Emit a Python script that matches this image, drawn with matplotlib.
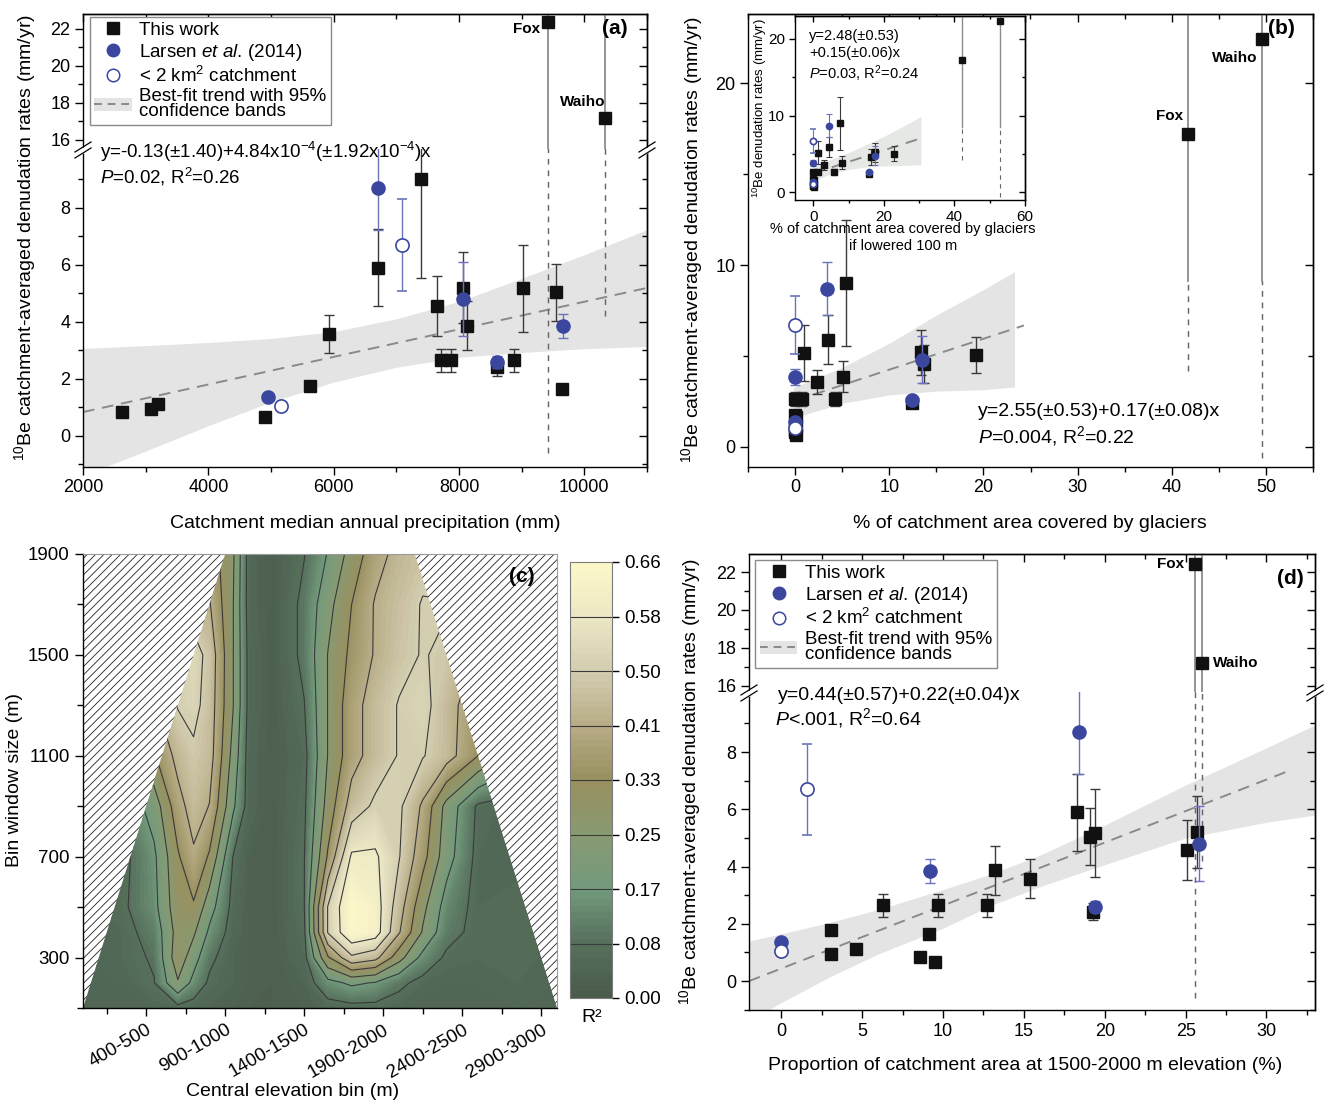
import numpy as np
import matplotlib
matplotlib.use("Agg")
import matplotlib.pyplot as plt
from matplotlib.lines import Line2D
from matplotlib.patches import Patch, Rectangle, Polygon
from matplotlib.colors import LinearSegmentedColormap

plt.rcParams["font.family"] = ["Liberation Sans", "DejaVu Sans"]
plt.rcParams["mathtext.fontset"] = "custom"
plt.rcParams["mathtext.rm"] = "Liberation Sans"
plt.rcParams["mathtext.it"] = "Liberation Sans:italic"
plt.rcParams["mathtext.bf"] = "Liberation Sans:bold"
plt.rcParams["hatch.linewidth"] = 0.6
plt.rcParams["axes.linewidth"] = 1.0

# -----------------------------
# 10Be rates, this work (mm/yr)
# -----------------------------
this_rate = [0.83, 0.95, 1.13, 0.65, 1.77, 3.58, 5.90, 9.00, 4.57, 2.65,
             2.65, 5.20, 3.87, 2.42, 2.65, 5.18, 5.05, 1.63]
this_err = [0.05, 0.08, 0.08, 0.06, 0.12, 0.67, 1.35, 3.45, 1.05, 0.40,
            0.40, 1.25, 0.85, 0.30, 0.40, 1.53, 1.00, 0.12]
this_precip = [2620, 3080, 3200, 4900, 5630, 5930, 6700, 7400, 7650, 7720,
               7880, 8070, 8130, 8600, 8880, 9020, 9550, 9640]
this_glacier = [0.0, 0.0, 0.1, 0.1, 0.0, 2.3, 3.5, 5.4, 13.7, 0.0,
                0.7, 13.4, 5.1, 12.4, 4.2, 0.9, 19.2, 0.1]
this_glacier100 = [0.0, 0.0, 0.1, 0.1, 0.0, 3.0, 4.4, 7.5, 16.3, 0.0,
                   1.3, 17.4, 8.0, 15.7, 5.8, 1.4, 23.0, 0.1]
this_prop = [8.6, 3.1, 4.6, 9.5, 3.1, 15.4, 18.3, np.nan, 25.1, 6.3,
             9.7, 25.7, 13.2, 19.3, 12.7, 19.4, 19.1, 9.1]

# glacier-fed catchments (Fox, Waiho)
big_names = ["Fox", "Waiho"]
big_rate = [22.4, 17.2]
big_err_lo = [23.0, 13.0]
big_err_hi = [10.0, 10.0]
big_precip = [9420, 10330]
big_glacier = [49.6, 41.7]
big_glacier100 = [53.0, 42.0]
big_prop = [25.6, 26.0]

# Larsen et al. (2014)
lar_rate = [1.35, 8.70, 4.80, 2.60, 3.85]
lar_err = [0.08, 1.46, 1.30, 0.20, 0.42]
lar_precip = [4960, 6700, 8070, 8600, 9660]
lar_glacier = [0.0, 3.4, 13.5, 12.4, 0.0]
lar_glacier100 = [0.0, 4.4, 17.5, 15.7, 0.0]
lar_prop = [0.0, 18.4, 25.8, 19.4, 9.2]

# < 2 km2 catchments
small_rate = [1.05, 6.70]
small_err = [0.10, 1.60]
small_precip = [5160, 7090]
small_glacier = [0.0, 0.0]
small_glacier100 = [0.0, 0.0]
small_prop = [0.0, 1.6]

# regression fits (intercept, slope) and 95% bands
fit_a = (-0.13, 4.84e-4)
fit_a_x = [2000, 11000]
band_a_x = [2000, 3000, 4000, 5000, 6000, 7000, 8000, 9000, 10000, 11000]
band_a_hi = [3.07, 3.17, 3.28, 3.42, 3.66, 4.11, 4.72, 5.53, 6.36, 7.24]
band_a_lo = [-1.39, -0.53, 0.36, 1.19, 1.89, 2.41, 2.76, 2.93, 3.06, 3.14]

fit_b = (2.55, 0.17)
fit_b_x = [0, 24.3]
band_b_x = [-0.2, 5, 10, 15, 20, 23.3]
band_b_hi = [3.26, 4.38, 5.70, 7.25, 8.65, 9.63]
band_b_lo = [1.60, 2.40, 2.86, 3.07, 3.15, 3.30]

fit_ins = (2.48, 0.15)
fit_ins_x = [0, 30.5]
band_ins_x = [0, 5, 10, 15, 20, 25, 30.5]
band_ins_hi = [3.4, 4.3, 5.2, 6.2, 7.3, 8.5, 9.9]
band_ins_lo = [1.5, 2.4, 3.0, 3.3, 3.45, 3.5, 3.6]

fit_d = (0.44, 0.22)
fit_d_x = [-2, 31.5]
band_d_x = [-2, 0, 3, 6, 10, 13, 16, 20, 25, 30, 33]
band_d_hi = [1.4, 1.65, 2.05, 2.5, 3.2, 3.75, 4.4, 5.45, 6.85, 8.15, 8.95]
band_d_lo = [-1.4, -0.75, 0.15, 0.95, 1.85, 2.65, 3.3, 4.07, 5.0, 5.55, 5.8]

# R2 of rate vs. catchment proportion in elevation bins
bin_centre = [50, 300, 500, 650, 750, 850, 1000, 1100, 1250, 1450, 1600,
              1750, 1900, 2050, 2200, 2350, 2550, 2800, 3050]
bin_window = [100, 200, 300, 400, 500, 700, 900, 1100, 1300, 1500, 1700, 1900]
r2 = [
    [0.04, 0.05, 0.05, 0.06, 0.05, 0.04, 0.03, 0.02, 0.02, 0.03, 0.05, 0.06, 0.06, 0.05, 0.04, 0.04, 0.05, 0.05, 0.04],
    [0.05, 0.05, 0.08, 0.24, 0.14, 0.07, 0.04, 0.03, 0.02, 0.04, 0.14, 0.18, 0.16, 0.10, 0.06, 0.05, 0.05, 0.06, 0.05],
    [0.05, 0.06, 0.09, 0.30, 0.20, 0.10, 0.04, 0.03, 0.02, 0.06, 0.32, 0.48, 0.44, 0.28, 0.14, 0.07, 0.06, 0.07, 0.05],
    [0.05, 0.06, 0.11, 0.28, 0.26, 0.15, 0.05, 0.03, 0.02, 0.07, 0.50, 0.65, 0.62, 0.42, 0.24, 0.11, 0.06, 0.07, 0.05],
    [0.05, 0.07, 0.14, 0.30, 0.32, 0.20, 0.06, 0.03, 0.02, 0.08, 0.50, 0.66, 0.62, 0.45, 0.27, 0.13, 0.06, 0.07, 0.05],
    [0.05, 0.06, 0.15, 0.32, 0.40, 0.32, 0.08, 0.03, 0.02, 0.08, 0.34, 0.59, 0.59, 0.50, 0.36, 0.20, 0.06, 0.05, 0.05],
    [0.08, 0.10, 0.20, 0.38, 0.45, 0.41, 0.18, 0.05, 0.02, 0.07, 0.28, 0.45, 0.51, 0.51, 0.40, 0.22, 0.07, 0.05, 0.05],
    [0.20, 0.25, 0.32, 0.44, 0.48, 0.45, 0.22, 0.05, 0.02, 0.06, 0.25, 0.38, 0.45, 0.50, 0.50, 0.45, 0.33, 0.20, 0.15],
    [0.30, 0.35, 0.40, 0.50, 0.52, 0.46, 0.25, 0.06, 0.02, 0.08, 0.25, 0.38, 0.45, 0.50, 0.52, 0.45, 0.35, 0.25, 0.20],
    [0.35, 0.40, 0.45, 0.50, 0.53, 0.47, 0.25, 0.06, 0.02, 0.10, 0.25, 0.35, 0.42, 0.47, 0.50, 0.48, 0.40, 0.30, 0.25],
    [0.35, 0.40, 0.42, 0.45, 0.45, 0.42, 0.25, 0.05, 0.02, 0.10, 0.22, 0.33, 0.42, 0.46, 0.50, 0.50, 0.40, 0.30, 0.25],
    [0.35, 0.40, 0.42, 0.43, 0.42, 0.38, 0.26, 0.05, 0.02, 0.08, 0.17, 0.28, 0.38, 0.44, 0.47, 0.45, 0.40, 0.30, 0.25],
]
bin_ticks = [450, 950, 1450, 1950, 2450, 2950]
bin_labels = ["400-500", "900-1000", "1400-1500", "1900-2000", "2400-2500", "2900-3000"]
r2_levels = [0.0, 0.0825, 0.165, 0.2475, 0.33, 0.4125, 0.495, 0.5775, 0.66]
r2_labels = ["0.00", "0.08", "0.17", "0.25", "0.33", "0.41", "0.50", "0.58", "0.66"]
r2_colors = ["#4b5a4b", "#56705c", "#729a7c", "#889a72", "#99905f",
             "#b7ac86", "#d3cdb0", "#ebe7c4", "#fdf8c9"]

BLUE = "#3b479f"
BLUE_E = "#6a73bb"
BAND = "#e4e4e4"
FITC = "#8a8a8a"

W, H = 1325, 1107
fig = plt.figure(figsize=(W / 100, H / 100), dpi=100)


def box(l, t, r, b):
    return [l / W, 1 - b / H, (r - l) / W, (b - t) / H]


def ftext(xp, yp, s, **kw):
    return fig.text(xp / W, 1 - yp / H, s, **kw)


def ticks(ax, xmaj, xmin, ymaj, ymin, fs=13, top=True, right=True,
          bottom=True, ml=6, nl=3.5):
    ax.set_xticks(xmaj)
    ax.set_xticks(xmin, minor=True)
    ax.set_yticks(ymaj)
    ax.set_yticks(ymin, minor=True)
    ax.tick_params(which="both", direction="out", labelsize=fs, width=1,
                   top=False, right=False, bottom=bottom, labelbottom=bottom)
    ax.tick_params(which="major", length=ml, pad=3)
    ax.tick_params(which="minor", length=nl)
    if right:
        sy = ax.secondary_yaxis("right")
        sy.set_yticks(ymaj)
        sy.set_yticks(ymin, minor=True)
        sy.tick_params(which="both", direction="in", labelright=False, width=1)
        sy.tick_params(which="major", length=ml)
        sy.tick_params(which="minor", length=nl)
    if top:
        sx = ax.secondary_xaxis("top")
        sx.set_xticks(xmaj)
        sx.set_xticks(xmin, minor=True)
        sx.tick_params(which="both", direction="in", labeltop=False, width=1)
        sx.tick_params(which="major", length=ml)
        sx.tick_params(which="minor", length=nl)


def draw_points(ax, xt, xl, xs, xb, sq=9, ci=9.5, cap=3.5, lw=1.0):
    ax.errorbar(xt, this_rate, yerr=this_err, fmt="s", color="#111111",
                ms=sq, ecolor="#3a3a3a", elinewidth=lw, capsize=cap,
                capthick=lw, zorder=4)
    ax.errorbar(xl, lar_rate, yerr=lar_err, fmt="o", color=BLUE, ms=ci,
                ecolor=BLUE_E, elinewidth=lw, capsize=cap, capthick=lw,
                zorder=5)
    ax.errorbar(xs, small_rate, yerr=small_err, fmt="o", mfc="white",
                mec=BLUE, mew=1.2, ms=ci, ecolor=BLUE_E, elinewidth=lw,
                capsize=cap, capthick=lw, zorder=5)
    ax.plot(xb, big_rate, "s", color="#111111", ms=sq, zorder=6)


def long_bars(ax, xb, split, lw=1.3):
    # solid part above the split value, dashed part below it
    for x, y, lo, hi in zip(xb, big_rate, big_err_lo, big_err_hi):
        ax.plot([x, x], [max(split, y - lo), y + hi], color="#8c8c8c",
                lw=lw, zorder=2)
        ax.plot([x, x], [y - lo, split], color="#666666", lw=lw * 0.8,
                ls=(0, (4, 4)), zorder=2)


def fit_band(ax, bx, lo, hi, fit, fx, color=BAND):
    ax.fill_between(bx, lo, hi, color=color, lw=0, zorder=0)
    fx = np.array(fx, dtype=float)
    ax.plot(fx, fit[0] + fit[1] * fx, color=FITC, lw=1.4,
            ls=(0, (6, 4)), zorder=1)


def break_marks(xp, yp):
    pts = [(xp - 7, yp + 9), (xp + 7, yp + 1), (xp + 7, yp - 5), (xp - 7, yp + 3)]
    fig.add_artist(Polygon([(a / W, 1 - b / H) for a, b in pts],
                           closed=True, transform=fig.transFigure,
                           facecolor="white", edgecolor="none", zorder=10))
    for off in (-3, 3):
        fig.add_artist(Line2D([(xp - 8) / W, (xp + 8) / W],
                              [1 - (yp + 6 + off) / H, 1 - (yp - 4 + off) / H],
                              transform=fig.transFigure, color="black",
                              lw=0.9, zorder=11))


def legend(ax, anchor):
    handles = [
        Line2D([], [], marker="s", ls="none", color="#111111", ms=8),
        Line2D([], [], marker="o", ls="none", color=BLUE, ms=9),
        Line2D([], [], marker="o", ls="none", mfc="white", mec=BLUE, mew=1.1, ms=9),
        (Patch(facecolor=BAND, edgecolor="none"),
         Line2D([], [], color=FITC, lw=1.4, ls=(0, (4, 3)))),
    ]
    labels = ["This work", r"Larsen $\it{et\ al}$. (2014)",
              r"< 2 km$^2$ catchment", "Best-fit trend with 95%\nconfidence bands"]
    leg = ax.legend(handles, labels, loc="upper left", bbox_to_anchor=anchor,
                    fontsize=13.5, frameon=True, fancybox=False,
                    edgecolor="#8a8a8a", framealpha=1, borderpad=0.25,
                    labelspacing=0.15, handlelength=2.0, handletextpad=0.4,
                    borderaxespad=0)
    leg.get_frame().set_linewidth(1.0)
    for t in leg.get_texts():
        t.set_linespacing(0.85)
    leg.set_zorder(20)


ylab = r"$^{10}$Be catchment-averaged denudation rates (mm/yr)"

# ---------------- (a) precipitation ----------------
a_up = fig.add_axes(box(83, 14, 647, 149))
a_lo = fig.add_axes(box(83, 149, 647, 467))
for ax in (a_up, a_lo):
    draw_points(ax, this_precip, lar_precip, small_precip, big_precip)
fit_band(a_lo, band_a_x, band_a_lo, band_a_hi, fit_a, fit_a_x)
long_bars(a_up, big_precip, -100)
long_bars(a_lo, big_precip, 100)
xmaj = [2000, 4000, 6000, 8000, 10000]
xmin = [3000, 5000, 7000, 9000, 11000]
ticks(a_up, xmaj, xmin, [16, 18, 20, 22], [17, 19, 21], bottom=False)
ticks(a_lo, xmaj, xmin, [0, 2, 4, 6, 8], [-1, 1, 3, 5, 7, 9], top=False)
a_up.spines["bottom"].set_visible(False)
a_lo.spines["top"].set_visible(False)
for ax in (a_up, a_lo):
    ax.set_xlim(2000, 11000)
a_up.set_ylim(15.51, 22.81)
a_lo.set_ylim(-1.09, 10.07)
legend(a_up, (0.012, 0.978))
a_up.annotate("Fox", (big_precip[0], big_rate[0]), xytext=(-6, -5),
              textcoords="offset points", ha="right", va="center",
              fontsize=11, fontweight="bold")
a_up.annotate("Waiho", (big_precip[1], big_rate[1]), xytext=(0, 11),
              textcoords="offset points", ha="right", va="center",
              fontsize=11, fontweight="bold")
ftext(628, 28, "(a)", fontsize=15, fontweight="bold", ha="right", va="center")
ftext(100, 152, r"y=-0.13(±1.40)+4.84x10$^{-4}$(±1.92x10$^{-4}$)x",
      fontsize=13.5, va="center")
ftext(100, 177, r"$P$=0.02, R$^2$=0.26", fontsize=13.5, va="center")
ftext(365, 524, "Catchment median annual precipitation (mm)", fontsize=14,
      ha="center", va="center")
ftext(25, 238, ylab, fontsize=14, rotation=90, ha="center", va="center")
break_marks(83, 149)
break_marks(647, 149)

# ---------------- (b) glacier cover ----------------
b = fig.add_axes(box(748, 14, 1313, 467))
fit_band(b, band_b_x, band_b_lo, band_b_hi, fit_b, fit_b_x)
draw_points(b, this_glacier, lar_glacier, small_glacier, big_glacier)
long_bars(b, big_glacier, 9.1)
ticks(b, [0, 10, 20, 30, 40, 50], [-5, 5, 15, 25, 35, 45, 55],
      [0, 10, 20], [5, 15])
b.set_xlim(-5, 55)
b.set_ylim(-1.1, 23.8)
b.annotate("Fox", (big_glacier[1], big_rate[1]), xytext=(-13, 13),
           textcoords="offset points", ha="center", va="center",
           fontsize=11, fontweight="bold")
b.annotate("Waiho", (big_glacier[0], big_rate[0]), xytext=(-20, -13),
           textcoords="offset points", ha="center", va="center",
           fontsize=11, fontweight="bold")
ftext(1295, 28, "(b)", fontsize=15, fontweight="bold", ha="right", va="center")
ftext(978, 412, "y=2.55(±0.53)+0.17(±0.08)x", fontsize=14, va="center")
ftext(978, 436, r"$P$=0.004, R$^2$=0.22", fontsize=14, va="center")
ftext(1030, 524, "% of catchment area covered by glaciers", fontsize=14,
      ha="center", va="center")
ftext(692, 240, ylab, fontsize=14, rotation=90, ha="center", va="center")

# inset: glaciers lowered 100 m
ins = fig.add_axes(box(795, 16, 1025, 200))
fit_band(ins, band_ins_x, band_ins_lo, band_ins_hi, fit_ins, fit_ins_x,
         color="#e6e8e6")
draw_points(ins, this_glacier100, lar_glacier100, small_glacier100,
            big_glacier100, sq=4, ci=4.5, cap=2, lw=0.8)
long_bars(ins, big_glacier100, 8.5, lw=1.0)
ticks(ins, [0, 20, 40, 60], [10, 30, 50], [0, 10, 20], [5, 15], fs=11,
      ml=4, nl=2.5)
ins.set_xlim(-5.2, 60)
ins.set_ylim(-1.0, 23.0)
ins.text(0.06, 0.93, "y=2.48(±0.53)\n+0.15(±0.06)x\n$P$=0.03, R$^2$=0.24",
         transform=ins.transAxes, fontsize=10.5, va="top", linespacing=1.25)
ftext(903, 229, "% of catchment area covered by glaciers", fontsize=10.5,
      ha="center", va="center")
ftext(903, 246, "if lowered 100 m", fontsize=10.5, ha="center", va="center")
ftext(760, 108, r"$^{10}$Be denudation rates (mm/yr)", fontsize=9.5,
      rotation=90, ha="center", va="center")

# ---------------- (c) elevation bin R2 ----------------
c = fig.add_axes(box(83, 554, 557, 1008))
cmap = LinearSegmentedColormap.from_list(
    "r2", [(v / r2_levels[-1], col) for v, col in zip(r2_levels, r2_colors)])
cx, cy = np.meshgrid(bin_centre, bin_window)
zz = np.array(r2)
c.add_patch(Rectangle((bin_centre[0], bin_window[0]),
                      bin_centre[-1] - bin_centre[0],
                      bin_window[-1] - bin_window[0], facecolor="white",
                      edgecolor="#222222", hatch="////", lw=0, zorder=0))
fill_levels = np.linspace(0, 0.66, 67)
cf = c.contourf(cx, cy, zz, levels=fill_levels, cmap=cmap, zorder=1)
cs = c.contour(cx, cy, zz, levels=r2_levels[1:-1], colors="#3a3a3a",
               linewidths=0.8, zorder=2)
valid = Polygon([(50, 100), (3050, 100), (2150, 1900), (950, 1900)],
                transform=c.transData)
cf.set_clip_path(valid)
cs.set_clip_path(valid)
c.set_xlim(50, 3050)
c.set_ylim(100, 1900)
c.set_xticks(bin_ticks, labels=bin_labels, rotation=30, ha="right",
             rotation_mode="anchor")
c.set_xticks([200, 700, 1200, 1700, 2200, 2700], minor=True)
c.set_yticks([300, 700, 1100, 1500, 1900])
c.set_yticks([100, 500, 900, 1300, 1700], minor=True)
c.tick_params(which="both", direction="out", labelsize=13.5, width=1)
c.tick_params(which="major", length=6)
c.tick_params(which="minor", length=4)
for s in ("top", "right"):
    c.spines[s].set_color("#9a9a9a")
    c.spines[s].set_linewidth(0.8)
ftext(535, 576, "(c)", fontsize=15, fontweight="bold", ha="right", va="center")
ftext(293, 1092, "Central elevation bin (m)", fontsize=14, ha="center",
      va="center")
ftext(15, 780, "Bin window size (m)", fontsize=14, rotation=90, ha="center",
      va="center")

cax = fig.add_axes(box(570, 562, 612, 998))
cb = fig.colorbar(cf, cax=cax)
cb.set_ticks(r2_levels, labels=r2_labels)
cb.add_lines(cs)
cb.ax.tick_params(labelsize=13.5, direction="out", length=5, width=1)
cb.outline.set_edgecolor("#7a7a7a")
cb.outline.set_linewidth(0.8)
ftext(592, 1018, "R²", fontsize=14, ha="center", va="center")

# ---------------- (d) 1500-2000 m proportion ----------------
d_up = fig.add_axes(box(749, 554, 1315, 692))
d_lo = fig.add_axes(box(749, 692, 1315, 1010))
for ax in (d_up, d_lo):
    draw_points(ax, this_prop, lar_prop, small_prop, big_prop)
fit_band(d_lo, band_d_x, band_d_lo, band_d_hi, fit_d, fit_d_x)
long_bars(d_up, big_prop, -100)
long_bars(d_lo, big_prop, 100)
xmaj = [0, 5, 10, 15, 20, 25, 30]
xmin = [-2.5, 2.5, 7.5, 12.5, 17.5, 22.5, 27.5, 32.5]
ticks(d_up, xmaj, xmin, [16, 18, 20, 22], [17, 19, 21], bottom=False)
ticks(d_lo, xmaj, xmin, [0, 2, 4, 6, 8], [-1, 1, 3, 5, 7, 9], top=False)
d_up.spines["bottom"].set_visible(False)
d_lo.spines["top"].set_visible(False)
for ax in (d_up, d_lo):
    ax.set_xlim(-2, 33)
d_up.set_ylim(15.68, 22.95)
d_lo.set_ylim(-1.01, 10.1)
legend(d_up, (0.011, 0.957))
d_up.annotate("Fox", (big_prop[0], big_rate[0]), xytext=(-8, 0),
              textcoords="offset points", ha="right", va="center",
              fontsize=11, fontweight="bold")
d_up.annotate("Waiho", (big_prop[1], big_rate[1]), xytext=(8, 0),
              textcoords="offset points", ha="left", va="center",
              fontsize=11, fontweight="bold")
ftext(1304, 578, "(d)", fontsize=15, fontweight="bold", ha="right", va="center")
ftext(778, 696, "y=0.44(±0.57)+0.22(±0.04)x", fontsize=14, va="center")
ftext(775, 718, r"$P$<.001, R$^2$=0.64", fontsize=14, va="center")
ftext(1025, 1066, "Proportion of catchment area at 1500-2000 m elevation (%)",
      fontsize=14, ha="center", va="center")
ftext(690, 782, ylab, fontsize=14, rotation=90, ha="center", va="center")
break_marks(749, 692)
break_marks(1315, 692)

fig.savefig("out.png", dpi=100, facecolor="white")
